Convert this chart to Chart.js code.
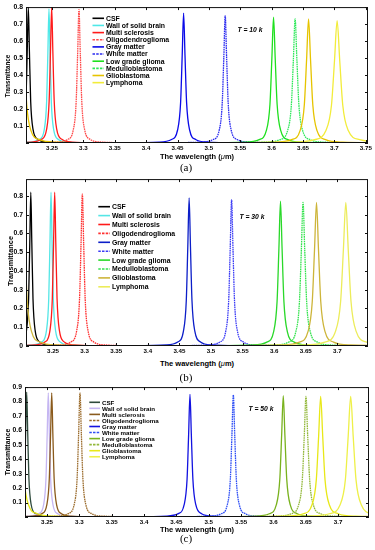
<!DOCTYPE html>
<html>
<head>
<meta charset="utf-8">
<script src="https://cdn.jsdelivr.net/npm/chart.js"></script>
<style>
  body { margin: 0; background: #fff; width: 375px; height: 550px; position: relative; overflow: hidden; font-family: "Liberation Sans", Arial, sans-serif; }
  canvas { position: absolute; left: 0; }
  .lbl { position: absolute; transform: translate(-50%, -50%); white-space: nowrap; color: #000; }
  .xt { font-weight: bold; font-size: 7.5px; }
  .xt i { font-weight: normal; }
  .yt { font-weight: bold; transform: translate(-50%, -50%) rotate(-90deg); }
  .tk { font-weight: bold; font-style: italic; font-size: 6.8px; }
  .pn { font-family: "Liberation Serif", "Times New Roman", serif; font-size: 11px; }
</style>
</head>
<body>
<canvas id="chart-a" width="375" height="155" style="top:0px"></canvas>
<canvas id="chart-b" width="375" height="186" style="top:172px"></canvas>
<canvas id="chart-c" width="375" height="149" style="top:380px"></canvas>

<div class="lbl yt" style="left:7px; top:76px; font-size:6.3px">Transmittance</div>
<div class="lbl xt" style="left:197px; top:156px">The wavelength (<i>μ</i>m)</div>
<div class="lbl pn" style="left:186px; top:167px">(a)</div>
<div class="lbl tk" style="left:250px; top:29px">T = 10 k</div>

<div class="lbl yt" style="left:10px; top:261px; font-size:7.4px">Transmittance</div>
<div class="lbl xt" style="left:197px; top:363px">The wavelength (<i>μ</i>m)</div>
<div class="lbl pn" style="left:186px; top:377px">(b)</div>
<div class="lbl tk" style="left:252px; top:216px">T = 30 k</div>

<div class="lbl yt" style="left:7px; top:452px; font-size:6.9px">Transmittance</div>
<div class="lbl xt" style="left:197px; top:529px">The wavelength (<i>μ</i>m)</div>
<div class="lbl pn" style="left:186px; top:538px">(c)</div>
<div class="lbl tk" style="left:261px; top:408px">T = 50 k</div>

<script>
// series names, same order in all three panels
const tissues = ['CSF', 'Wall of solid brain', 'Multi sclerosis', 'Oligodendroglioma', 'Gray matter',
  'White matter', 'Low grade glioma', 'Medulloblastoma', 'Glioblastoma', 'Lymphoma'];

// ---- (a) T = 10 k : [wavelength um, transmittance]
const csfA = [[3.1373,0.001],[3.1823,0.0055],[3.1973,0.0216],[3.2048,0.08],[3.20855,0.246],[3.21055,0.537],[3.2123,0.8],[3.21405,0.537],[3.21605,0.246],[3.2198,0.08],[3.2273,0.0216],[3.2423,0.0055],[3.2873,0.001]];
const wallA = [[3.1702,0.001],[3.2152,0.0055],[3.2302,0.0213],[3.2377,0.079],[3.24145,0.243],[3.24345,0.53],[3.2452,0.79],[3.24695,0.53],[3.24895,0.243],[3.2527,0.079],[3.2602,0.0213],[3.2752,0.0055],[3.3202,0.001]];
const msA = [[3.1685,0.001],[3.2171,0.0055],[3.2333,0.0216],[3.2414,0.08],[3.24545,0.246],[3.24761,0.537],[3.2495,0.8],[3.25139,0.537],[3.25355,0.246],[3.2576,0.08],[3.2657,0.0216],[3.2819,0.0055],[3.3305,0.001]];
const oligoA = [[3.203,0.001],[3.257,0.0054],[3.275,0.0212],[3.284,0.0785],[3.2885,0.242],[3.2909,0.527],[3.293,0.785],[3.2951,0.527],[3.2975,0.242],[3.302,0.0785],[3.311,0.0212],[3.329,0.0054],[3.383,0.001]];
const grayA = [[3.3637,0.001],[3.4213,0.0053],[3.4405,0.0207],[3.4501,0.0765],[3.4549,0.236],[3.45746,0.513],[3.4597,0.765],[3.46194,0.513],[3.4645,0.236],[3.4693,0.0765],[3.4789,0.0207],[3.4981,0.0053],[3.5557,0.001]];
const whiteA = [[3.43,0.001],[3.4876,0.0052],[3.5068,0.0203],[3.5164,0.075],[3.5212,0.231],[3.52376,0.503],[3.526,0.75],[3.52824,0.503],[3.5308,0.231],[3.5356,0.075],[3.5452,0.0203],[3.5644,0.0052],[3.622,0.001]];
const lowA = [[3.489,0.001],[3.5574,0.0051],[3.5802,0.02],[3.5916,0.074],[3.5973,0.228],[3.60034,0.497],[3.603,0.74],[3.60566,0.497],[3.6087,0.228],[3.6144,0.074],[3.6258,0.02],[3.6486,0.0051],[3.717,0.001]];
const medA = [[3.5174,0.001],[3.5894,0.005],[3.6134,0.0197],[3.6254,0.073],[3.6314,0.225],[3.6346,0.49],[3.6374,0.73],[3.6402,0.49],[3.6434,0.225],[3.6494,0.073],[3.6614,0.0197],[3.6854,0.005],[3.7574,0.001]];
const glioA = [[3.203,0.73],[3.20615,0.49],[3.20975,0.225],[3.2165,0.073],[3.23,0.0197],[3.257,0.005],[3.338,0.001],
  [3.5238,0.001],[3.6048,0.005],[3.6318,0.0197],[3.6453,0.073],[3.65205,0.225],[3.65565,0.49],[3.6588,0.73],[3.66195,0.49],[3.66555,0.225],[3.6723,0.073],[3.6858,0.0197],[3.7128,0.005],[3.7938,0.001]];
const lymA = [[3.5243,0.001],[3.6323,0.005],[3.6683,0.0194],[3.6863,0.072],[3.6953,0.222],[3.7001,0.483],[3.7043,0.72],[3.7085,0.483],[3.7133,0.222],[3.7223,0.072],[3.7403,0.0194],[3.7763,0.005]];

// ---- (b) T = 30 k
const csfB = [[3.1458,0.001],[3.1872,0.0057],[3.201,0.0221],[3.2079,0.082],[3.21135,0.253],[3.21319,0.55],[3.2148,0.82],[3.21641,0.55],[3.21825,0.253],[3.2217,0.082],[3.2286,0.0221],[3.2424,0.0057],[3.2838,0.001]];
const wallB = [[3.1748,0.001],[3.218,0.0057],[3.2324,0.0221],[3.2396,0.082],[3.2432,0.253],[3.24512,0.55],[3.2468,0.82],[3.24848,0.55],[3.2504,0.253],[3.254,0.082],[3.2612,0.0221],[3.2756,0.0057],[3.3188,0.001]];
const msB = [[3.1776,0.001],[3.2226,0.0057],[3.2376,0.0221],[3.2451,0.082],[3.24885,0.253],[3.25085,0.55],[3.2526,0.82],[3.25435,0.55],[3.25635,0.253],[3.2601,0.082],[3.2676,0.0221],[3.2826,0.0057],[3.3276,0.001]];
const oligoB = [[3.2064,0.001],[3.2604,0.0056],[3.2784,0.0219],[3.2874,0.081],[3.2919,0.249],[3.2943,0.543],[3.2964,0.81],[3.2985,0.543],[3.3009,0.249],[3.3054,0.081],[3.3144,0.0219],[3.3324,0.0056],[3.3864,0.001]];
const grayB = [[3.3754,0.001],[3.4294,0.0055],[3.4474,0.0213],[3.4564,0.079],[3.4609,0.243],[3.4633,0.53],[3.4654,0.79],[3.4675,0.53],[3.4699,0.243],[3.4744,0.079],[3.4834,0.0213],[3.5014,0.0055],[3.5554,0.001]];
const whiteB = [[3.4396,0.001],[3.4954,0.0054],[3.514,0.0211],[3.5233,0.078],[3.52795,0.24],[3.53043,0.523],[3.5326,0.78],[3.53477,0.523],[3.53725,0.24],[3.5419,0.078],[3.5512,0.0211],[3.5698,0.0054],[3.6256,0.001]];
const lowB = [[3.502,0.001],[3.5668,0.0053],[3.5884,0.0208],[3.5992,0.0772],[3.6046,0.238],[3.60748,0.518],[3.61,0.772],[3.61252,0.518],[3.6154,0.238],[3.6208,0.0772],[3.6316,0.0208],[3.6532,0.0053],[3.718,0.001]];
const medB = [[3.5317,0.001],[3.6001,0.0053],[3.6229,0.0207],[3.6343,0.0765],[3.64,0.236],[3.64304,0.513],[3.6457,0.765],[3.64836,0.513],[3.6514,0.236],[3.6571,0.0765],[3.6685,0.0207],[3.6913,0.0053],[3.7597,0.001]];
const glioB = [[3.2025,0.765],[3.20565,0.513],[3.20925,0.236],[3.216,0.0765],[3.2295,0.0207],[3.2565,0.0053],[3.3375,0.001],
  [3.532,0.001],[3.613,0.0053],[3.64,0.0207],[3.6535,0.0765],[3.66025,0.236],[3.66385,0.513],[3.667,0.765],[3.67015,0.513],[3.67375,0.236],[3.6805,0.0765],[3.694,0.0207],[3.721,0.0053],[3.802,0.001]];
const lymB = [[3.5484,0.001],[3.6474,0.0053],[3.6804,0.0207],[3.6969,0.0765],[3.70515,0.236],[3.70955,0.513],[3.7134,0.765],[3.71725,0.513],[3.72165,0.236],[3.7299,0.0765],[3.7464,0.0207],[3.7794,0.0053]];

// ---- (c) T = 50 k
const csfC = [[3.1496,0.001],[3.191,0.006],[3.2048,0.0234],[3.2117,0.0865],[3.21515,0.266],[3.21699,0.58],[3.2186,0.865],[3.22021,0.58],[3.22205,0.266],[3.2255,0.0865],[3.2324,0.0234],[3.2462,0.006],[3.2876,0.001]];
const wallC = [[3.18,0.001],[3.2232,0.006],[3.2376,0.0232],[3.2448,0.086],[3.2484,0.265],[3.25032,0.577],[3.252,0.86],[3.25368,0.577],[3.2556,0.265],[3.2592,0.086],[3.2664,0.0232],[3.2808,0.006],[3.324,0.001]];
const msC = [[3.1823,0.001],[3.2273,0.006],[3.2423,0.0232],[3.2498,0.086],[3.25355,0.265],[3.25555,0.577],[3.2573,0.86],[3.25905,0.577],[3.26105,0.265],[3.2648,0.086],[3.2723,0.0232],[3.2873,0.006],[3.3323,0.001]];
const oligoC = [[3.211,0.001],[3.265,0.006],[3.283,0.0232],[3.292,0.086],[3.2965,0.265],[3.2989,0.577],[3.301,0.86],[3.3031,0.577],[3.3055,0.265],[3.31,0.086],[3.319,0.0232],[3.337,0.006],[3.391,0.001]];
const grayC = [[3.381,0.001],[3.435,0.0059],[3.453,0.023],[3.462,0.085],[3.4665,0.262],[3.4689,0.57],[3.471,0.85],[3.4731,0.57],[3.4755,0.262],[3.48,0.085],[3.489,0.023],[3.507,0.0059],[3.561,0.001]];
const whiteC = [[3.445,0.001],[3.5008,0.0058],[3.5194,0.0228],[3.5287,0.0845],[3.53335,0.26],[3.53583,0.567],[3.538,0.845],[3.54017,0.567],[3.54265,0.26],[3.5473,0.0845],[3.5566,0.0228],[3.5752,0.0058],[3.631,0.001]];
const lowC = [[3.5072,0.001],[3.572,0.0058],[3.5936,0.0227],[3.6044,0.084],[3.6098,0.259],[3.61268,0.564],[3.6152,0.84],[3.61772,0.564],[3.6206,0.259],[3.626,0.084],[3.6368,0.0227],[3.6584,0.0058],[3.7232,0.001]];
const medC = [[3.5363,0.001],[3.6047,0.0058],[3.6275,0.0225],[3.6389,0.0835],[3.6446,0.257],[3.64764,0.56],[3.6503,0.835],[3.65296,0.56],[3.656,0.257],[3.6617,0.0835],[3.6731,0.0225],[3.6959,0.0058],[3.7643,0.001]];
const glioC = [[3.208,0.835],[3.21115,0.56],[3.21475,0.257],[3.2215,0.0835],[3.235,0.0225],[3.262,0.0058],[3.343,0.001],
  [3.538,0.001],[3.619,0.0058],[3.646,0.0225],[3.6595,0.0835],[3.66625,0.257],[3.66985,0.56],[3.673,0.835],[3.67615,0.56],[3.67975,0.257],[3.6865,0.0835],[3.7,0.0225],[3.727,0.0058],[3.808,0.001]];
const lymC = [[3.5544,0.001],[3.6534,0.0058],[3.6864,0.0225],[3.7029,0.0835],[3.71115,0.257],[3.71555,0.56],[3.7194,0.835],[3.72325,0.56],[3.72765,0.257],[3.7359,0.0835],[3.7524,0.0225],[3.7854,0.0058]];

const colorsA = ['#000000', '#4fe8e8', '#ff1a1a', '#ff4a4a', '#0a0ae8', '#2a2af0', '#1ee01e', '#2ee85a', '#e6c400', '#f2ec3a'];
const colorsB = ['#000000', '#55e6e6', '#ff1a1a', '#ff3030', '#0c1ec8', '#3a3af5', '#2ad82a', '#34e34e', '#cdb53a', '#ecec5a'];
const colorsC = ['#2e4a3c', '#c5b6f2', '#8a5a1c', '#9a6a2a', '#1212e0', '#2e4ef5', '#79b21e', '#93b83a', '#e8e818', '#eef048'];
// fine dashes on the curves, coarser in the legend samples
const dashes = [[], [], [], [1.6, 0.7], [], [1.6, 0.7], [], [1.6, 0.7], [], []];
const legendDashes = [[], [], [], [2.5, 1.2], [], [2.5, 1.2], [], [2.5, 1.2], [], []];

const frameTicks = {
  id: 'frameTicks',
  afterDraw(chart) {
    const { ctx, chartArea: a, scales: { x, y } } = chart;
    ctx.save();
    ctx.strokeStyle = '#111';
    ctx.lineWidth = 1;
    ctx.strokeRect(a.left + 0.5, a.top + 0.5, a.right - a.left - 1, a.bottom - a.top - 1);
    ctx.beginPath();
    x.ticks.forEach(t => {
      const p = Math.round(x.getPixelForValue(t.value)) + 0.5;
      ctx.moveTo(p, a.bottom); ctx.lineTo(p, a.bottom - 3);
      ctx.moveTo(p, a.top); ctx.lineTo(p, a.top + 3);
    });
    y.ticks.forEach(t => {
      const p = Math.round(y.getPixelForValue(t.value)) + 0.5;
      ctx.moveTo(a.left, p); ctx.lineTo(a.left + 3, p);
      ctx.moveTo(a.right, p); ctx.lineTo(a.right - 3, p);
    });
    ctx.stroke();
    ctx.restore();
  }
};

const tissueLegend = {
  id: 'tissueLegend',
  afterDatasetsDraw(chart, args, opts) {
    const ctx = chart.ctx;
    ctx.save();
    ctx.font = opts.font;
    ctx.textBaseline = 'middle';
    chart.data.datasets.forEach((ds, i) => {
      const y = opts.y + i * opts.step;
      ctx.strokeStyle = ds.borderColor;
      ctx.lineWidth = 1.6;
      ctx.setLineDash(legendDashes[i]);
      ctx.beginPath();
      ctx.moveTo(opts.x, y);
      ctx.lineTo(opts.x + opts.len, y);
      ctx.stroke();
      ctx.setLineDash([]);
      ctx.fillStyle = '#000';
      ctx.fillText(ds.label, opts.x + opts.len + 2, y + 0.5);
    });
    ctx.restore();
  }
};

function makeChart(id, series, colors, cfg) {
  const datasets = series.map((data, i) => ({
    label: tissues[i],
    data: data,
    borderColor: colors[i],
    borderDash: dashes[i],
    borderWidth: 1.3,
    pointRadius: 0,
    showLine: true,
    cubicInterpolationMode: 'monotone',
    order: series.length - i
  }));
  return new Chart(document.getElementById(id), {
    type: 'scatter',
    data: { datasets },
    options: {
      responsive: false,
      animation: false,
      events: [],
      layout: { padding: { top: 6, right: cfg.right, left: 0, bottom: 0 } },
      plugins: { legend: { display: false }, tooltip: { enabled: false }, tissueLegend: cfg.legend },
      scales: {
        x: {
          type: 'linear', min: cfg.xmin, max: cfg.xmax,
          grid: { display: false, drawTicks: false }, border: { display: false },
          afterFit: s => { s.height = 12; },
          ticks: {
            stepSize: 0.05, includeBounds: false, autoSkip: false, maxRotation: 0, padding: 2,
            color: '#000', font: { family: 'Liberation Sans', size: 6.2, weight: 'bold' },
            callback: v => String(+v.toFixed(2))
          }
        },
        y: {
          type: 'linear', min: 0, max: cfg.ymax,
          grid: { display: false, drawTicks: false }, border: { display: false },
          afterFit: s => { s.width = cfg.left; },
          ticks: {
            stepSize: 0.1, includeBounds: false, padding: 3,
            color: '#000', font: { family: 'Liberation Sans', size: 6.8, weight: 'bold' },
            callback: v => (v === 0 && !cfg.zero) ? '' : String(+v.toFixed(1))
          }
        }
      }
    },
    plugins: [frameTicks, tissueLegend]
  });
}

makeChart('chart-a', [csfA, wallA, msA, oligoA, grayA, whiteA, lowA, medA, glioA, lymA], colorsA,
  { xmin: 3.2086, xmax: 3.7535, ymax: 0.8, left: 26, right: 7, zero: false,
    legend: { x: 92.5, y: 18.3, step: 7.15, len: 11.5, font: 'bold 6.9px "Liberation Sans"' } });
makeChart('chart-b', [csfB, wallB, msB, oligoB, grayB, whiteB, lowB, medB, glioB, lymB], colorsB,
  { xmin: 3.2072, xmax: 3.7485, ymax: 0.89, left: 26, right: 7, zero: true,
    legend: { x: 98.3, y: 34.7, step: 8.9, len: 11.7, font: 'bold 6.9px "Liberation Sans"' } });
makeChart('chart-c', [csfC, wallC, msC, oligoC, grayC, whiteC, lowC, medC, glioC, lymC], colorsC,
  { xmin: 3.216, xmax: 3.7477, ymax: 0.9, left: 25, right: 6, zero: false,
    legend: { x: 89.3, y: 22.3, step: 6.05, len: 10.7, font: 'bold 6.2px "Liberation Sans"' } });
</script>
</body>
</html>
